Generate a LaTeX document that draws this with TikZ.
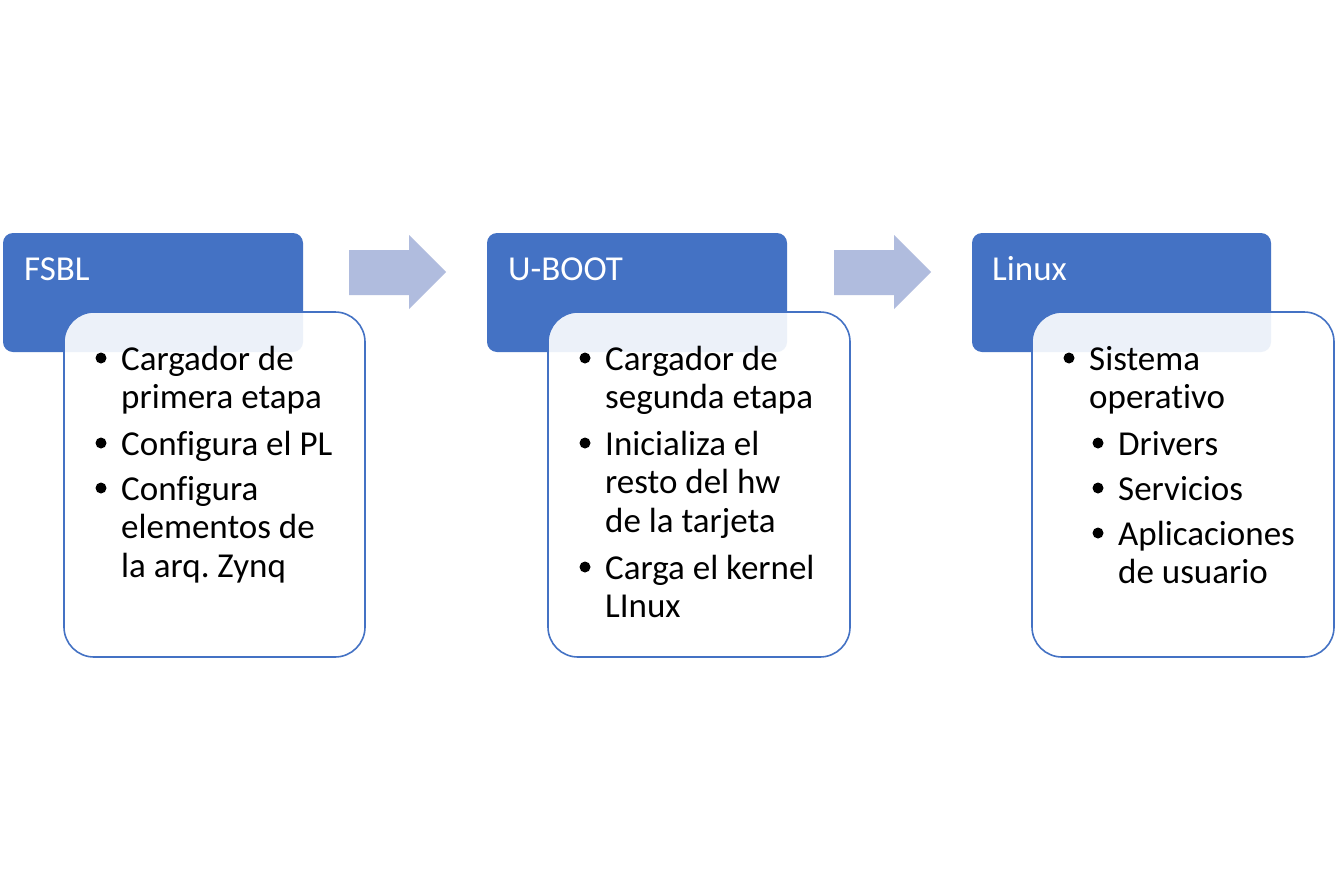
\documentclass[tikz,border=0pt]{standalone}
\usepackage{fontspec}
\setmainfont{Carlito}[Ligatures={NoCommon}]
\frenchspacing
\definecolor{hdr}{HTML}{4472C4}
\definecolor{arw}{HTML}{B0BCDE}
\tikzset{
  x=1pt, y=-1pt,
  hdrbox/.style={fill=hdr, rounded corners=10pt},
  bodybox/.style={draw=hdr, line width=1.6pt, fill=white, fill opacity=0.9, rounded corners=30pt},
  title/.style={text=white, font=\fontsize{35}{40}\selectfont, anchor=base west, inner sep=0pt},
  txt/.style={text=black, font=\fontsize{35}{40}\selectfont, anchor=base west, inner sep=0pt},
  bul/.style={fill=black, circle, inner sep=0pt, minimum size=11pt},
  arrowshape/.style={fill=arw}
}
\begin{document}
\begin{tikzpicture}
\useasboundingbox (0,0) rectangle (1335,889);
\fill[white] (0,0) rectangle (1335,889);

% arrows
\fill[arrowshape] (349,250) -- (409,250) -- (409,235) -- (446,272) -- (409,309) -- (409,295) -- (349,295) -- cycle;
\fill[arrowshape] (834,250) -- (894,250) -- (894,235) -- (931,272) -- (894,309) -- (894,295) -- (834,295) -- cycle;

% boxes
\path[hdrbox] (3,233) rectangle (303,352);
\path[bodybox] (64,312) rectangle (365,657);
\path[hdrbox] (487,233) rectangle (787,352);
\path[bodybox] (548,312) rectangle (850,657);
\path[hdrbox] (972,233) rectangle (1271,352);
\path[bodybox] (1032,312) rectangle (1334,657);

% titles
\node[title] (t1) at (24,280) {FSBL};
\node[title] (t2) at (508,280) {U-BOOT};
\node[title] (t3) at (992,280) {Linux};

% box 1
\node[bul] (b11) at (101,358) {};
\node[txt] (l11) at (121,370) {Cargador de};
\node[txt] (l12) at (121,408) {primera etapa};
\node[bul] (b12) at (101,443) {};
\node[txt] (l13) at (121,455) {Configura el PL};
\node[bul] (b13) at (101,488) {};
\node[txt] (l14) at (121,500) {Configura};
\node[txt] (l15) at (121,538) {elementos de};
\node[txt] (l16) at (121,577) {la arq. Zynq};

% box 2
\node[bul] (b21) at (585,358) {};
\node[txt] (l21) at (605,370) {Cargador de};
\node[txt] (l22) at (605,408) {segunda etapa};
\node[bul] (b22) at (585,443) {};
\node[txt] (l23) at (605,455) {Inicializa el};
\node[txt] (l24) at (605,493) {resto del hw};
\node[txt] (l25) at (605,532) {de la tarjeta};
\node[bul] (b23) at (585,567) {};
\node[txt] (l26) at (605,579) {Carga el kernel};
\node[txt] (l27) at (605,617) {LInux};

% box 3
\node[bul] (b31) at (1069,358) {};
\node[txt] (l31) at (1089,370) {Sistema};
\node[txt] (l32) at (1089,408) {operativo};
\node[bul] (b32) at (1098,443) {};
\node[txt] (l33) at (1118,455) {Drivers};
\node[bul] (b33) at (1098,488) {};
\node[txt] (l34) at (1118,500) {Servicios};
\node[bul] (b34) at (1098,533) {};
\node[txt] (l35) at (1118,545) {Aplicaciones};
\node[txt] (l36) at (1118,583) {de usuario};
\end{tikzpicture}
\end{document}
